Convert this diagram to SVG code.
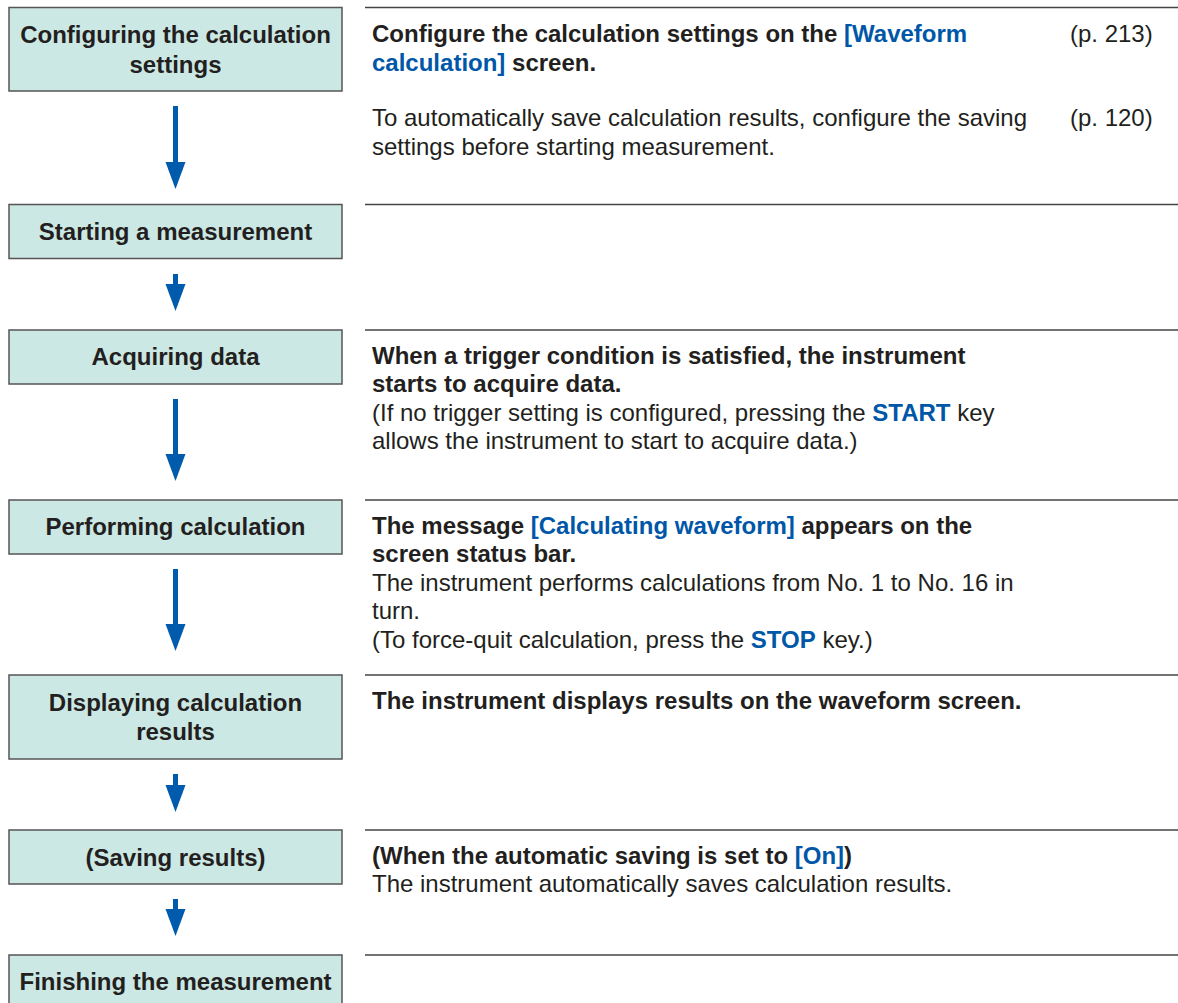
<svg xmlns="http://www.w3.org/2000/svg" width="1178" height="1003" viewBox="0 0 1178 1003">
<style>
.box{fill:#cce8e4;stroke:#555;stroke-width:1.5}
.bt{font-family:"Liberation Sans",Arial,sans-serif;font-size:24px;font-weight:bold;fill:#231f20;text-anchor:middle}
.t{font-family:"Liberation Sans",Arial,sans-serif;font-size:24px;fill:#231f20}
.b{font-weight:bold}
.blue{fill:#0057a8;font-weight:bold}
.sep{stroke:#444;stroke-width:1.3}
.arr{stroke:#005bac;stroke-width:5;marker-end:url(#ah)}
</style>
<defs>
<marker id="ah" markerUnits="userSpaceOnUse" markerWidth="28" markerHeight="22" refX="0" refY="10" orient="auto" viewBox="0 0 28 20">
<path d="M0,0 L27,10 L0,20 Z" fill="#005bac"/>
</marker>
</defs>
<rect width="1178" height="1003" fill="#fff"/>
<g id="separators">
<line class="sep" x1="365" y1="7.5" x2="1178" y2="7.5"/>
<line class="sep" x1="365" y1="204.5" x2="1178" y2="204.5"/>
<line class="sep" x1="365" y1="330" x2="1178" y2="330"/>
<line class="sep" x1="365" y1="500" x2="1178" y2="500"/>
<line class="sep" x1="365" y1="675" x2="1178" y2="675"/>
<line class="sep" x1="365" y1="830" x2="1178" y2="830"/>
<line class="sep" x1="365" y1="955" x2="1178" y2="955"/>
</g>
<g id="n1">
<rect class="box" x="9" y="7.5" width="333" height="83.5"/>
<text class="bt" x="175.5" y="43">Configuring the calculation</text>
<text class="bt" x="175.5" y="73">settings</text>
</g>
<g id="n2">
<rect class="box" x="9" y="204.5" width="333" height="54"/>
<text class="bt" x="175.5" y="240">Starting a measurement</text>
</g>
<g id="n3">
<rect class="box" x="9" y="330" width="333" height="54"/>
<text class="bt" x="175.5" y="365">Acquiring data</text>
</g>
<g id="n4">
<rect class="box" x="9" y="500" width="333" height="54"/>
<text class="bt" x="175.5" y="535">Performing calculation</text>
</g>
<g id="n5">
<rect class="box" x="9" y="675" width="333" height="84"/>
<text class="bt" x="175.5" y="711">Displaying calculation</text>
<text class="bt" x="175.5" y="740">results</text>
</g>
<g id="n6">
<rect class="box" x="9" y="830" width="333" height="54"/>
<text class="bt" x="175.5" y="866">(Saving results)</text>
</g>
<g id="n7">
<rect class="box" x="9" y="955" width="333" height="60"/>
<text class="bt" x="175.5" y="990">Finishing the measurement</text>
</g>
<g id="connectors">
<line class="arr" x1="175.5" y1="106" x2="175.5" y2="162"/>
<line class="arr" x1="175.5" y1="274" x2="175.5" y2="284"/>
<line class="arr" x1="175.5" y1="399" x2="175.5" y2="454"/>
<line class="arr" x1="175.5" y1="569" x2="175.5" y2="624"/>
<line class="arr" x1="175.5" y1="774" x2="175.5" y2="785"/>
<line class="arr" x1="175.5" y1="899" x2="175.5" y2="909"/>
</g>
<g id="d1">
<text class="t b" x="372" y="42">Configure the calculation settings on the <tspan class="blue">[Waveform</tspan></text>
<text class="t b" x="372" y="71"><tspan class="blue">calculation]</tspan> screen.</text>
<text class="t" x="1070" y="42">(p. 213)</text>
<text class="t" x="372" y="126">To automatically save calculation results, configure the saving</text>
<text class="t" x="372" y="155">settings before starting measurement.</text>
<text class="t" x="1070" y="126">(p. 120)</text>
</g>
<g id="d3">
<text class="t b" x="372" y="364">When a trigger condition is satisfied, the instrument</text>
<text class="t b" x="372" y="392">starts to acquire data.</text>
<text class="t" x="372" y="421">(If no trigger setting is configured, pressing the <tspan class="blue">START</tspan> key</text>
<text class="t" x="372" y="449">allows the instrument to start to acquire data.)</text>
</g>
<g id="d4">
<text class="t b" x="372" y="534">The message <tspan class="blue">[Calculating waveform]</tspan> appears on the</text>
<text class="t b" x="372" y="562">screen status bar.</text>
<text class="t" x="372" y="591">The instrument performs calculations from No. 1 to No. 16 in</text>
<text class="t" x="372" y="619">turn.</text>
<text class="t" x="372" y="648">(To force-quit calculation, press the <tspan class="blue">STOP</tspan> key.)</text>
</g>
<g id="d5">
<text class="t b" x="372" y="709">The instrument displays results on the waveform screen.</text>
</g>
<g id="d6">
<text class="t b" x="372" y="864">(When the automatic saving is set to <tspan class="blue">[On]</tspan>)</text>
<text class="t" x="372" y="892">The instrument automatically saves calculation results.</text>
</g>
</svg>
